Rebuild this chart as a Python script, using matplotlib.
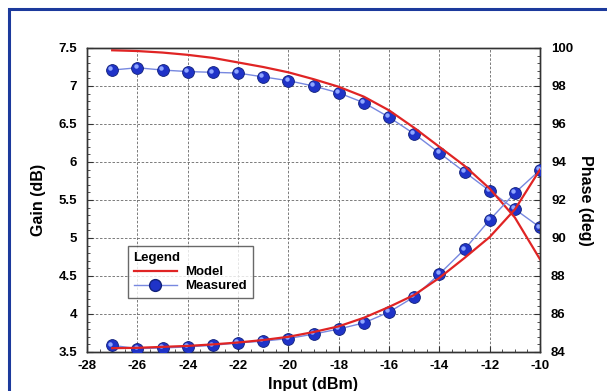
import matplotlib
matplotlib.use('Agg')
import matplotlib.pyplot as plt
import matplotlib.transforms as mtransforms
from matplotlib.lines import Line2D
from matplotlib.patches import Rectangle
from matplotlib.ticker import MultipleLocator

plt.rcParams['font.family'] = ['Liberation Sans', 'DejaVu Sans']
plt.rcParams['font.weight'] = 'bold'

# dados
entrada = [-27, -26, -25, -24, -23, -22, -21, -20, -19, -18, -17, -16, -15, -14, -13, -12, -11, -10]
ganho_medido = [7.21, 7.24, 7.21, 7.19, 7.18, 7.17, 7.12, 7.07, 7.00, 6.91, 6.78, 6.59, 6.37, 6.12, 5.87, 5.62, 5.38, 5.14]
ganho_modelo = [7.47, 7.46, 7.44, 7.41, 7.37, 7.31, 7.25, 7.18, 7.09, 6.99, 6.86, 6.68, 6.45, 6.20, 5.95, 5.65, 5.27, 4.72]
fase_medida = [84.35, 84.18, 84.21, 84.27, 84.35, 84.48, 84.57, 84.71, 84.94, 85.21, 85.53, 86.10, 86.90, 88.10, 89.40, 90.95, 92.37, 93.58]
fase_modelo = [84.20, 84.22, 84.27, 84.32, 84.40, 84.50, 84.63, 84.80, 85.05, 85.35, 85.80, 86.37, 87.00, 87.90, 88.95, 90.05, 91.50, 93.60]

cor_modelo = '#e02424'
cor_linha = '#7788e0'
cor_marcador = '#1f33c8'
cor_brilho = '#8fa6ff'

fig = plt.figure(figsize=(6.07, 3.91), dpi=100)
fig.patch.set_facecolor('white')

# moldura azul
fig.add_artist(Rectangle((9 / 607, -0.2), 1.5, 1.2 - 9 / 391, transform=fig.transFigure,
                         fill=False, edgecolor='#1c3a9c', linewidth=2.2))

ax1 = fig.add_axes([87 / 607, 1 - 352 / 391, (540 - 87) / 607, (352 - 48) / 391])
ax2 = ax1.twinx()


def desenha_medido(ax, x, y):
    ax.plot(x, y, color=cor_linha, lw=1.0, zorder=2)
    ax.plot(x, y, 'o', ms=8.5, mfc=cor_marcador, mec='#10207a', mew=0.6, zorder=3)
    desloc = mtransforms.offset_copy(ax.transData, fig=fig, x=-1.3, y=1.3, units='points')
    ax.plot(x, y, 'o', ms=3.2, mfc=cor_brilho, mec='none', transform=desloc, zorder=4)


ax1.plot(entrada, ganho_modelo, color=cor_modelo, lw=1.6, zorder=5)
desenha_medido(ax1, entrada, ganho_medido)
ax2.plot(entrada, fase_modelo, color=cor_modelo, lw=1.6, zorder=5)
desenha_medido(ax2, entrada, fase_medida)

ax1.set_xlim(-28, -10)
ax1.set_ylim(3.5, 7.5)
ax2.set_ylim(84, 100)

ax1.xaxis.set_major_locator(MultipleLocator(2))
ax1.xaxis.set_minor_locator(MultipleLocator(0.5))
ax1.yaxis.set_major_locator(MultipleLocator(0.5))
ax1.yaxis.set_minor_locator(MultipleLocator(0.1))
ax2.yaxis.set_major_locator(MultipleLocator(2))
ax2.yaxis.set_minor_locator(MultipleLocator(0.4))

ax1.grid(True, which='major', color='#666666', linestyle=(0, (3, 2)), linewidth=0.6)

for ax in (ax1, ax2):
    ax.tick_params(which='both', direction='in', labelsize=9.5, color='#333333')
    ax.tick_params(which='major', length=4)
    ax.tick_params(which='minor', length=2)
    for s in ax.spines.values():
        s.set_color('#333333')
        s.set_linewidth(1.0)
ax1.tick_params(axis='y', which='both', right=False, pad=7)
ax1.tick_params(axis='x', which='both', top=False, pad=6)
ax2.tick_params(axis='y', which='both', pad=8)

ax1.set_xticks(range(-28, -9, 2))
ax1.set_xticklabels([str(v) for v in range(-28, -9, 2)])
ax1.set_yticks([3.5, 4, 4.5, 5, 5.5, 6, 6.5, 7, 7.5])
ax1.set_yticklabels(['3.5', '4', '4.5', '5', '5.5', '6', '6.5', '7', '7.5'])

ax1.set_xlabel('Input (dBm)', fontsize=11.5, fontweight='bold', labelpad=3)
ax1.set_ylabel('Gain (dB)', fontsize=11.5, fontweight='bold', labelpad=9)
ax2.set_ylabel('Phase (deg)', fontsize=11.5, fontweight='bold', rotation=-90, labelpad=14)

# legenda
h_modelo = Line2D([], [], color=cor_modelo, lw=1.6)
h_medido = Line2D([], [], color=cor_linha, lw=1.0, marker='o', ms=8.5, mfc=cor_marcador, mec='#10207a')
leg = ax2.legend([h_modelo, h_medido], ['Model', 'Measured'], title='Legend', alignment='left',
                 loc='lower left', bbox_to_anchor=(0.075, 0.155),
                 title_fontproperties={'weight': 'bold', 'size': 9.5},
                 prop={'weight': 'bold', 'size': 9.5}, frameon=True, fancybox=False,
                 borderpad=0.45, handlelength=3.3, labelspacing=0.15, handletextpad=0.6)
leg.get_frame().set_edgecolor('#444444')
leg.get_frame().set_linewidth(1.0)
leg.set_zorder(10)

fig.savefig('out.png', dpi=100)
